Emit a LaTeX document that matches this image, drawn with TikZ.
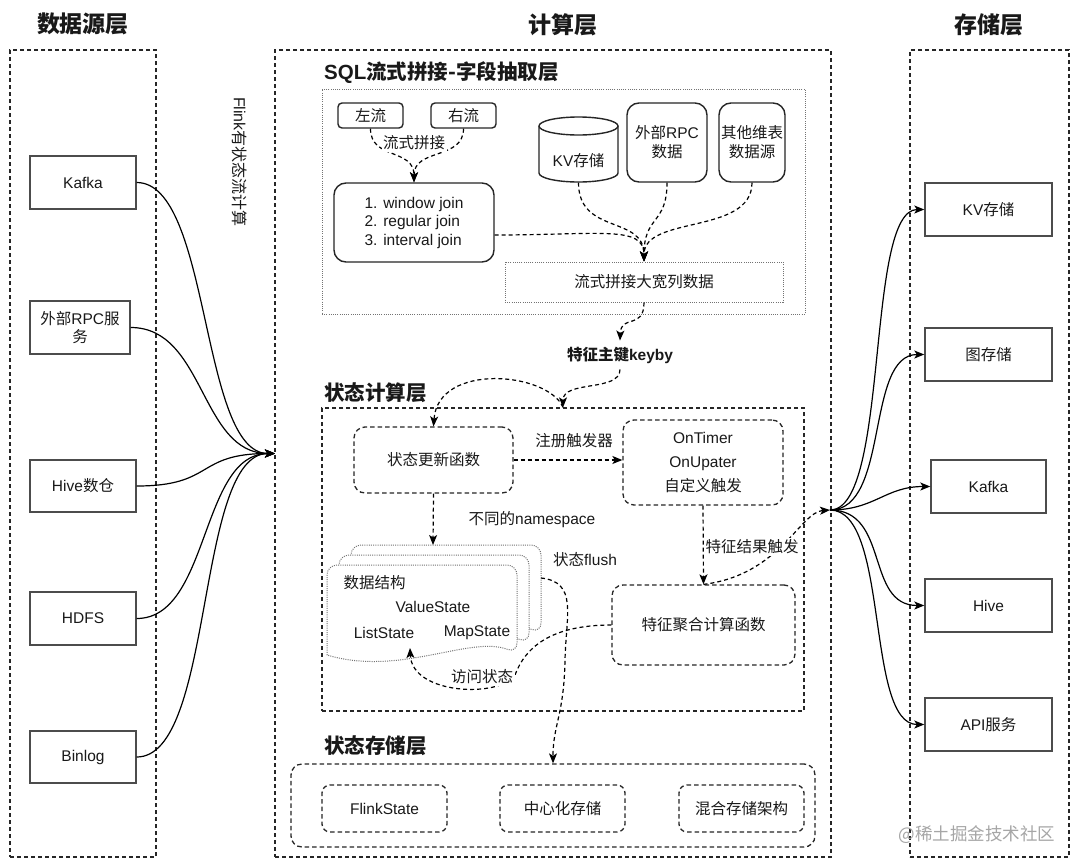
\documentclass[tikz,border=0pt]{standalone}
\usepackage{fontspec}
\setmainfont{Noto Sans CJK SC}
\newfontfamily\lat{Liberation Sans}
\usetikzlibrary{arrows.meta}
\newcommand{\mydoc}[2]{%
  \filldraw[dotbox, fill=white] ({#1},{#2+90}) [rounded corners=10pt] -- ({#1},{#2}) -- ({#1+190},{#2}) -- ({#1+190},{#2+88}) [sharp corners] .. controls ({#1+143},{#2+70}) and ({#1+73},{#2+112}) .. cycle;}
\begin{document}
\begin{tikzpicture}[x=1pt,y=-1pt,
  >={Stealth[length=10pt,width=8pt,inset=2.5pt]},
  every node/.style={font=\fontsize{15.5}{19}\selectfont, text=black!90},
  cont/.style={draw=black!85, line width=1.3pt, dash pattern=on 4pt off 3pt},
  sbox/.style={draw=black!70, line width=1.4pt, inner sep=2pt, align=center},
  rbox/.style={draw=black!85, line width=1.4pt, inner sep=2pt, align=center},
  dbox/.style={draw=black!85, line width=1.3pt, dash pattern=on 4.5pt off 3pt, rounded corners=11pt, align=center},
  dotbox/.style={draw=black!55, line width=1pt, dash pattern=on 1pt off 1.2pt},
  curve/.style={draw=black, line width=1.2pt},
  dcurve/.style={draw=black, line width=1.2pt, dash pattern=on 4pt off 3pt},
  ttl/.style={font=\fontsize{20.5}{24}\selectfont\bfseries, anchor=west, inner sep=0pt},
  head/.style={font=\fontsize{23}{27}\selectfont\bfseries},
  lbl/.style={fill=white, inner sep=1.5pt}
]
\useasboundingbox (0,0) rectangle (1080,868);
\fill[white] (0,0) rectangle (1080,868);

% headings
\node[head] (h1) at (83,24) {数据源层};
\node[head] (h2) at (563,25) {计算层};
\node[head] (h3) at (989,25) {存储层};

% main containers
\node[cont, minimum width=146pt, minimum height=807pt, inner sep=0pt] (leftbox) at (83,453.5) {};
\node[cont, minimum width=556pt, minimum height=807pt, inner sep=0pt] (midbox) at (553,453.5) {};
\node[cont, minimum width=159pt, minimum height=807pt, inner sep=0pt] (rightbox) at (989.5,453.5) {};
\coordinate (hubL) at (275,453.5);
\coordinate (hubR) at (830,510);

\node[rotate=-90, font=\fontsize{16}{19}\selectfont] (flinklbl) at (240,162) {{\lat Flink}有状态流计算};

% source boxes
\node[sbox, minimum width=106pt, minimum height=53pt] (kafkaL) at (83,182.5) {\lat Kafka};
\node[sbox, minimum width=100pt, minimum height=53pt, font=\fontsize{15.5}{18}\selectfont] (rpcL) at (80,327.5) {外部{\lat RPC}服\\务};
\node[sbox, minimum width=106pt, minimum height=52pt] (hiveL) at (83,486) {{\lat Hive}数仓};
\node[sbox, minimum width=106pt, minimum height=53pt] (hdfsL) at (83,618.5) {\lat HDFS};
\node[sbox, minimum width=106pt, minimum height=52pt] (binlogL) at (83,757) {\lat Binlog};

\draw[curve,->] (kafkaL.east) .. controls (211,182.5) and (200,453.5) .. (hubL);
\draw[curve,->] (rpcL.east) .. controls (205,327.5) and (200,453.5) .. (hubL);
\draw[curve,->] (hiveL.east) .. controls (215,486) and (195,453.5) .. (hubL);
\draw[curve,->] (hdfsL.east) .. controls (210,618.5) and (200,453.5) .. (hubL);
\draw[curve,->] (binlogL.east) .. controls (215,757) and (195,453.5) .. (hubL);

% target boxes
\node[sbox, minimum width=127pt, minimum height=53pt] (kvR) at (988.5,209.5) {{\lat KV}存储};
\node[sbox, minimum width=127pt, minimum height=53pt] (graphR) at (988.5,354.5) {图存储};
\node[sbox, minimum width=115pt, minimum height=53pt] (kafkaR) at (988.5,486.5) {\lat Kafka};
\node[sbox, minimum width=127pt, minimum height=53pt] (hiveR) at (988.5,605.5) {\lat Hive};
\node[sbox, minimum width=127pt, minimum height=53pt] (apiR) at (988.5,724.5) {{\lat API}服务};

\draw[curve,->] (hubR) .. controls (890,510) and (865,209.5) .. (kvR.west);
\draw[curve,->] (hubR) .. controls (890,510) and (865,354.5) .. (graphR.west);
\draw[curve,->] (hubR) .. controls (875,510) and (885,486.5) .. (kafkaR.west);
\draw[curve,->] (hubR) .. controls (890,510) and (865,605.5) .. (hiveR.west);
\draw[curve,->] (hubR) .. controls (890,510) and (865,724.5) .. (apiR.west);

% ===== SQL layer =====
\node[ttl] (sqlttl) at (324,73) {{\lat SQL}流式拼接-字段抽取层};
\node[dotbox, minimum width=483pt, minimum height=225pt, inner sep=0pt] (sqlbox) at (563.5,201.5) {};

\node[rbox, rounded corners=4pt, minimum width=65pt, minimum height=25pt] (leftS) at (370.5,115.5) {左流};
\node[rbox, rounded corners=4pt, minimum width=65pt, minimum height=25pt] (rightS) at (463.5,115.5) {右流};
\node[rbox, rounded corners=12pt, minimum width=160pt, minimum height=79pt, align=left, font=\fontsize{15.5}{18.5}\selectfont\lat] (join) at (414,222.5) {1. window join\\2. regular join\\3. interval join};

\draw[dcurve,->] (leftS.south) .. controls (370.5,160) and (414,148) .. (join.north);
\draw[dcurve,->] (rightS.south) .. controls (463.5,160) and (414,148) .. (join.north);
\node[lbl] (joinlbl) at (414,143) {流式拼接};

% cylinder
\draw[line width=1.4pt, draw=black!85, fill=white] (539,126) -- (539,173) .. controls (539,178) and (556.7,182) .. (578.5,182) .. controls (600.3,182) and (618,178) .. (618,173) -- (618,126);
\draw[line width=1.4pt, draw=black!85] (539,126) .. controls (539,121) and (556.7,117) .. (578.5,117) .. controls (600.3,117) and (618,121) .. (618,126) .. controls (618,131) and (600.3,135) .. (578.5,135) .. controls (556.7,135) and (539,131) .. (539,126);
\node[minimum width=79pt, minimum height=65pt, inner sep=0pt] (kvS) at (578.5,150) {};
\node (kvT) at (578.5,161) {{\lat KV}存储};

\node[rbox, rounded corners=12pt, minimum width=80pt, minimum height=79pt] (rpcS) at (667,142.5) {外部{\lat RPC}\\数据};
\node[rbox, rounded corners=12pt, minimum width=66pt, minimum height=79pt, inner sep=0pt] (otherS) at (752,142.5) {其他维表\\数据源};

\node[dotbox, minimum width=278pt, minimum height=40pt] (wide) at (644,282) {流式拼接大宽列数据};

\draw[dcurve,->] (kvS.south) .. controls (578.5,235) and (644,215) .. (wide.north);
\draw[dcurve,->] (rpcS.south) .. controls (667,225) and (644,215) .. (wide.north);
\draw[dcurve,->] (otherS.south) .. controls (752,235) and (644,215) .. (wide.north);
\draw[dcurve,->] (join.east |- 0,235) .. controls (600,235) and (644,225) .. (wide.north);

% keyby
\node[font=\fontsize{15.5}{19}\selectfont\bfseries, inner sep=6pt] (keyby) at (620,355) {特征主键{\lat\bfseries keyby}};
\draw[dcurve,->] (wide.south) .. controls (644,330) and (621,314) .. (keyby.north);

% ===== state compute layer =====
\node[ttl] (statettl) at (324,393) {状态计算层};
\node[cont, minimum width=482pt, minimum height=303pt, inner sep=0pt] (statebox) at (563,559.5) {};
\draw[dcurve,->] (keyby.south) .. controls (620,392) and (563,380) .. (statebox.north);

\node[dbox, minimum width=159pt, minimum height=66pt] (update) at (433.5,460) {状态更新函数};
\draw[dcurve,->] (statebox.north) .. controls (548,372) and (438,362) .. (update.north);

\node[dbox, minimum width=160pt, minimum height=85pt, font=\fontsize{15.5}{24}\selectfont] (trigger) at (703,462.5) {{\lat OnTimer}\\{\lat OnUpater}\\自定义触发};
\draw[dcurve,->] (update.east) -- (trigger.west |- update.east);
\node (reglbl) at (574,441) {注册触发器};

\node[dbox, minimum width=183pt, minimum height=80pt] (agg) at (703.5,625) {特征聚合计算函数};
\draw[dcurve,->] (trigger.south) -- (agg.north);

% stack of documents
\mydoc{351}{545}
\mydoc{339}{555}
\mydoc{327}{565}
\coordinate (stacktop) at (433,545);
\coordinate (stackR) at (541,578);
\node[anchor=west] (ds) at (340,583) {数据结构};
\node (vs) at (433,607) {\lat ValueState};
\node (ls) at (384,633) {\lat ListState};
\node (ms) at (477,633) {\lat MapState};
\coordinate (lsbot) at (410,648);

\draw[dcurve,->] (update.south) -- (stacktop);
\node (nslbl) at (532,520) {不同的{\lat namespace}};

% result trigger to output
\draw[dcurve,->] (agg.north) .. controls (780,575) and (800,512) .. (hubR);
\node[lbl] (reslbl) at (752,547) {特征结果触发};

% access state
\draw[dcurve,->] (agg.west) .. controls (550,625) and (525,648) .. (515,675) .. controls (500,698) and (412,695) .. (lsbot);
\node[lbl] (acclbl) at (482,677) {访问状态};

% ===== state storage layer =====
\node[ttl] (storettl) at (324,746) {状态存储层};
\node[dbox, minimum width=524pt, minimum height=83pt, inner sep=0pt] (storebox) at (553,805.5) {};
\node[dbox, rounded corners=8pt, minimum width=125pt, minimum height=47pt] (fs) at (384.5,808.5) {\lat FlinkState};
\node[dbox, rounded corners=8pt, minimum width=125pt, minimum height=47pt] (cs) at (562.5,808.5) {中心化存储};
\node[dbox, rounded corners=8pt, minimum width=125pt, minimum height=47pt] (hs) at (741.5,808.5) {混合存储架构};

% flush
\draw[dcurve,->] (stackR) .. controls (578,582) and (566,615) .. (565,660) .. controls (564,715) and (553,725) .. (storebox.north);
\node (flushlbl) at (585,560) {状态{\lat flush}};

% watermark
\node[font=\fontsize{17.5}{20}\selectfont, text=black!35] (wm) at (977,835) {@稀土掘金技术社区};
\end{tikzpicture}
\end{document}
